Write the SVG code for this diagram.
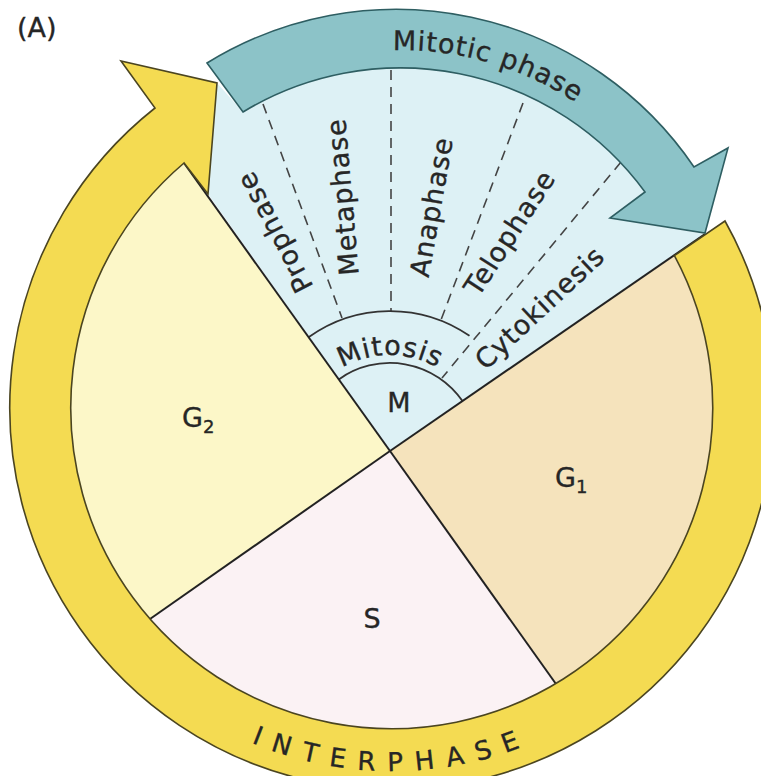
<svg xmlns="http://www.w3.org/2000/svg" width="761" height="776" viewBox="0 0 761 776">
<defs>
<style>
.lbl{font-family:"DejaVu Sans","Liberation Sans",sans-serif;font-size:27px;fill:#262626;stroke:#262626;stroke-width:0.35px;letter-spacing:1px}
.ray{stroke:#222;stroke-width:2;fill:none}
.dash{stroke:#444;stroke-width:1.6;fill:none;stroke-dasharray:10 7}
.arcl{stroke:#333;stroke-width:1.8;fill:none}
</style>
<path id="tpMitotic" d="M 290.2 69.4 A 321 321 0 0 1 645.9 164.7"/>
<path id="tpInter" d="M 77.6 589.5 A 363 363 0 0 0 706.4 589.5"/>
<path id="tpMitosis" d="M 299.8 418.2 A 96 96 0 0 1 480.2 418.2"/>
</defs>
<rect width="761" height="776" fill="#ffffff"/>

<g id="phase-G2">
<path d="M 390 451 L 184 163 A 321 321 0 0 0 150 619 Z" fill="#FCF7C8"/>
<text class="lbl" x="182" y="427" style="letter-spacing:0">G<tspan font-size="18" dy="6">2</tspan></text>
</g>
<g id="phase-S">
<path d="M 390 451 L 150 619 A 321 321 0 0 0 556 684 Z" fill="#FBF2F4"/>
<text class="lbl" x="372" y="628" text-anchor="middle" style="letter-spacing:0">S</text>
</g>
<g id="phase-G1">
<path d="M 390 451 L 556 684 A 321 321 0 0 0 674 256 Z" fill="#F5E3BC"/>
<text class="lbl" x="555" y="487" style="letter-spacing:0">G<tspan font-size="18" dy="6">1</tspan></text>
</g>
<g id="phase-M">
<path d="M 390 451 L 208 194 L 217 83 L 243 112 A 303 303 0 0 1 645 192 L 610 218 L 705 234 Z" fill="#DDF1F5"/>
<line class="dash" x1="263" y1="104" x2="342" y2="318"/>
<line class="dash" x1="391" y1="70" x2="391" y2="311"/>
<line class="dash" x1="523" y1="103" x2="441" y2="320"/>
<line class="dash" x1="621" y1="162" x2="442" y2="378"/>
<path class="arcl" d="M 308.5 337.2 A 140 140 0 0 1 469.5 335.8"/>
<path class="arcl" d="M 338.8 379.4 A 88 88 0 0 1 462.5 401.1"/>
<text class="lbl" transform="translate(275,232) rotate(-117.7)" x="0" y="9" text-anchor="middle">Prophase</text>
<text class="lbl" transform="translate(343,197) rotate(-95)" x="0" y="9" text-anchor="middle">Metaphase</text>
<text class="lbl" transform="translate(432,207) rotate(-80)" x="0" y="9" text-anchor="middle">Anaphase</text>
<text class="lbl" transform="translate(510,233) rotate(-57)" x="0" y="9" text-anchor="middle">Telophase</text>
<text class="lbl" transform="translate(540,308) rotate(-43)" x="0" y="9" text-anchor="middle">Cytokinesis</text>
<text class="lbl"><textPath href="#tpMitosis" startOffset="50%" text-anchor="middle">Mitosis</textPath></text>
<text class="lbl" x="399" y="412" text-anchor="middle" style="letter-spacing:0">M</text>
</g>

<g id="pie-borders">
<line class="ray" x1="390" y1="451" x2="184" y2="163"/>
<line class="ray" x1="390" y1="451" x2="150" y2="619"/>
<line class="ray" x1="390" y1="451" x2="556" y2="684"/>
<line class="ray" x1="390" y1="451" x2="705" y2="234"/>
</g>

<g id="connectors">
<g id="interphase-arrow">
<path d="M 674.4 255.6 L 725 221 A 382 382 0 1 1 155 108 L 121 61 L 217 83 L 208 194 L 184 163 A 321 321 0 1 0 674.4 255.6 Z" fill="#F4DB52" stroke="#4b4520" stroke-width="1.6" stroke-linejoin="miter"/>
<text class="lbl" style="letter-spacing:12.5px;font-size:26px"><textPath href="#tpInter" startOffset="380" text-anchor="middle">INTERPHASE</textPath></text>
</g>
<g id="mitotic-arrow">
<path d="M 207 63 A 360 360 0 0 1 694 167 L 728 148 L 705 233 L 610 218 L 645 192 A 303 303 0 0 0 243 112 Z" fill="#8CC3C8" stroke="#2E5E62" stroke-width="1.6"/>
<text class="lbl"><textPath href="#tpMitotic" startOffset="201.7" text-anchor="middle">Mitotic phase</textPath></text>
</g>
</g>

<g id="label-A">
<text class="lbl" x="17" y="37" style="letter-spacing:0">(A)</text>
</g>
</svg>
